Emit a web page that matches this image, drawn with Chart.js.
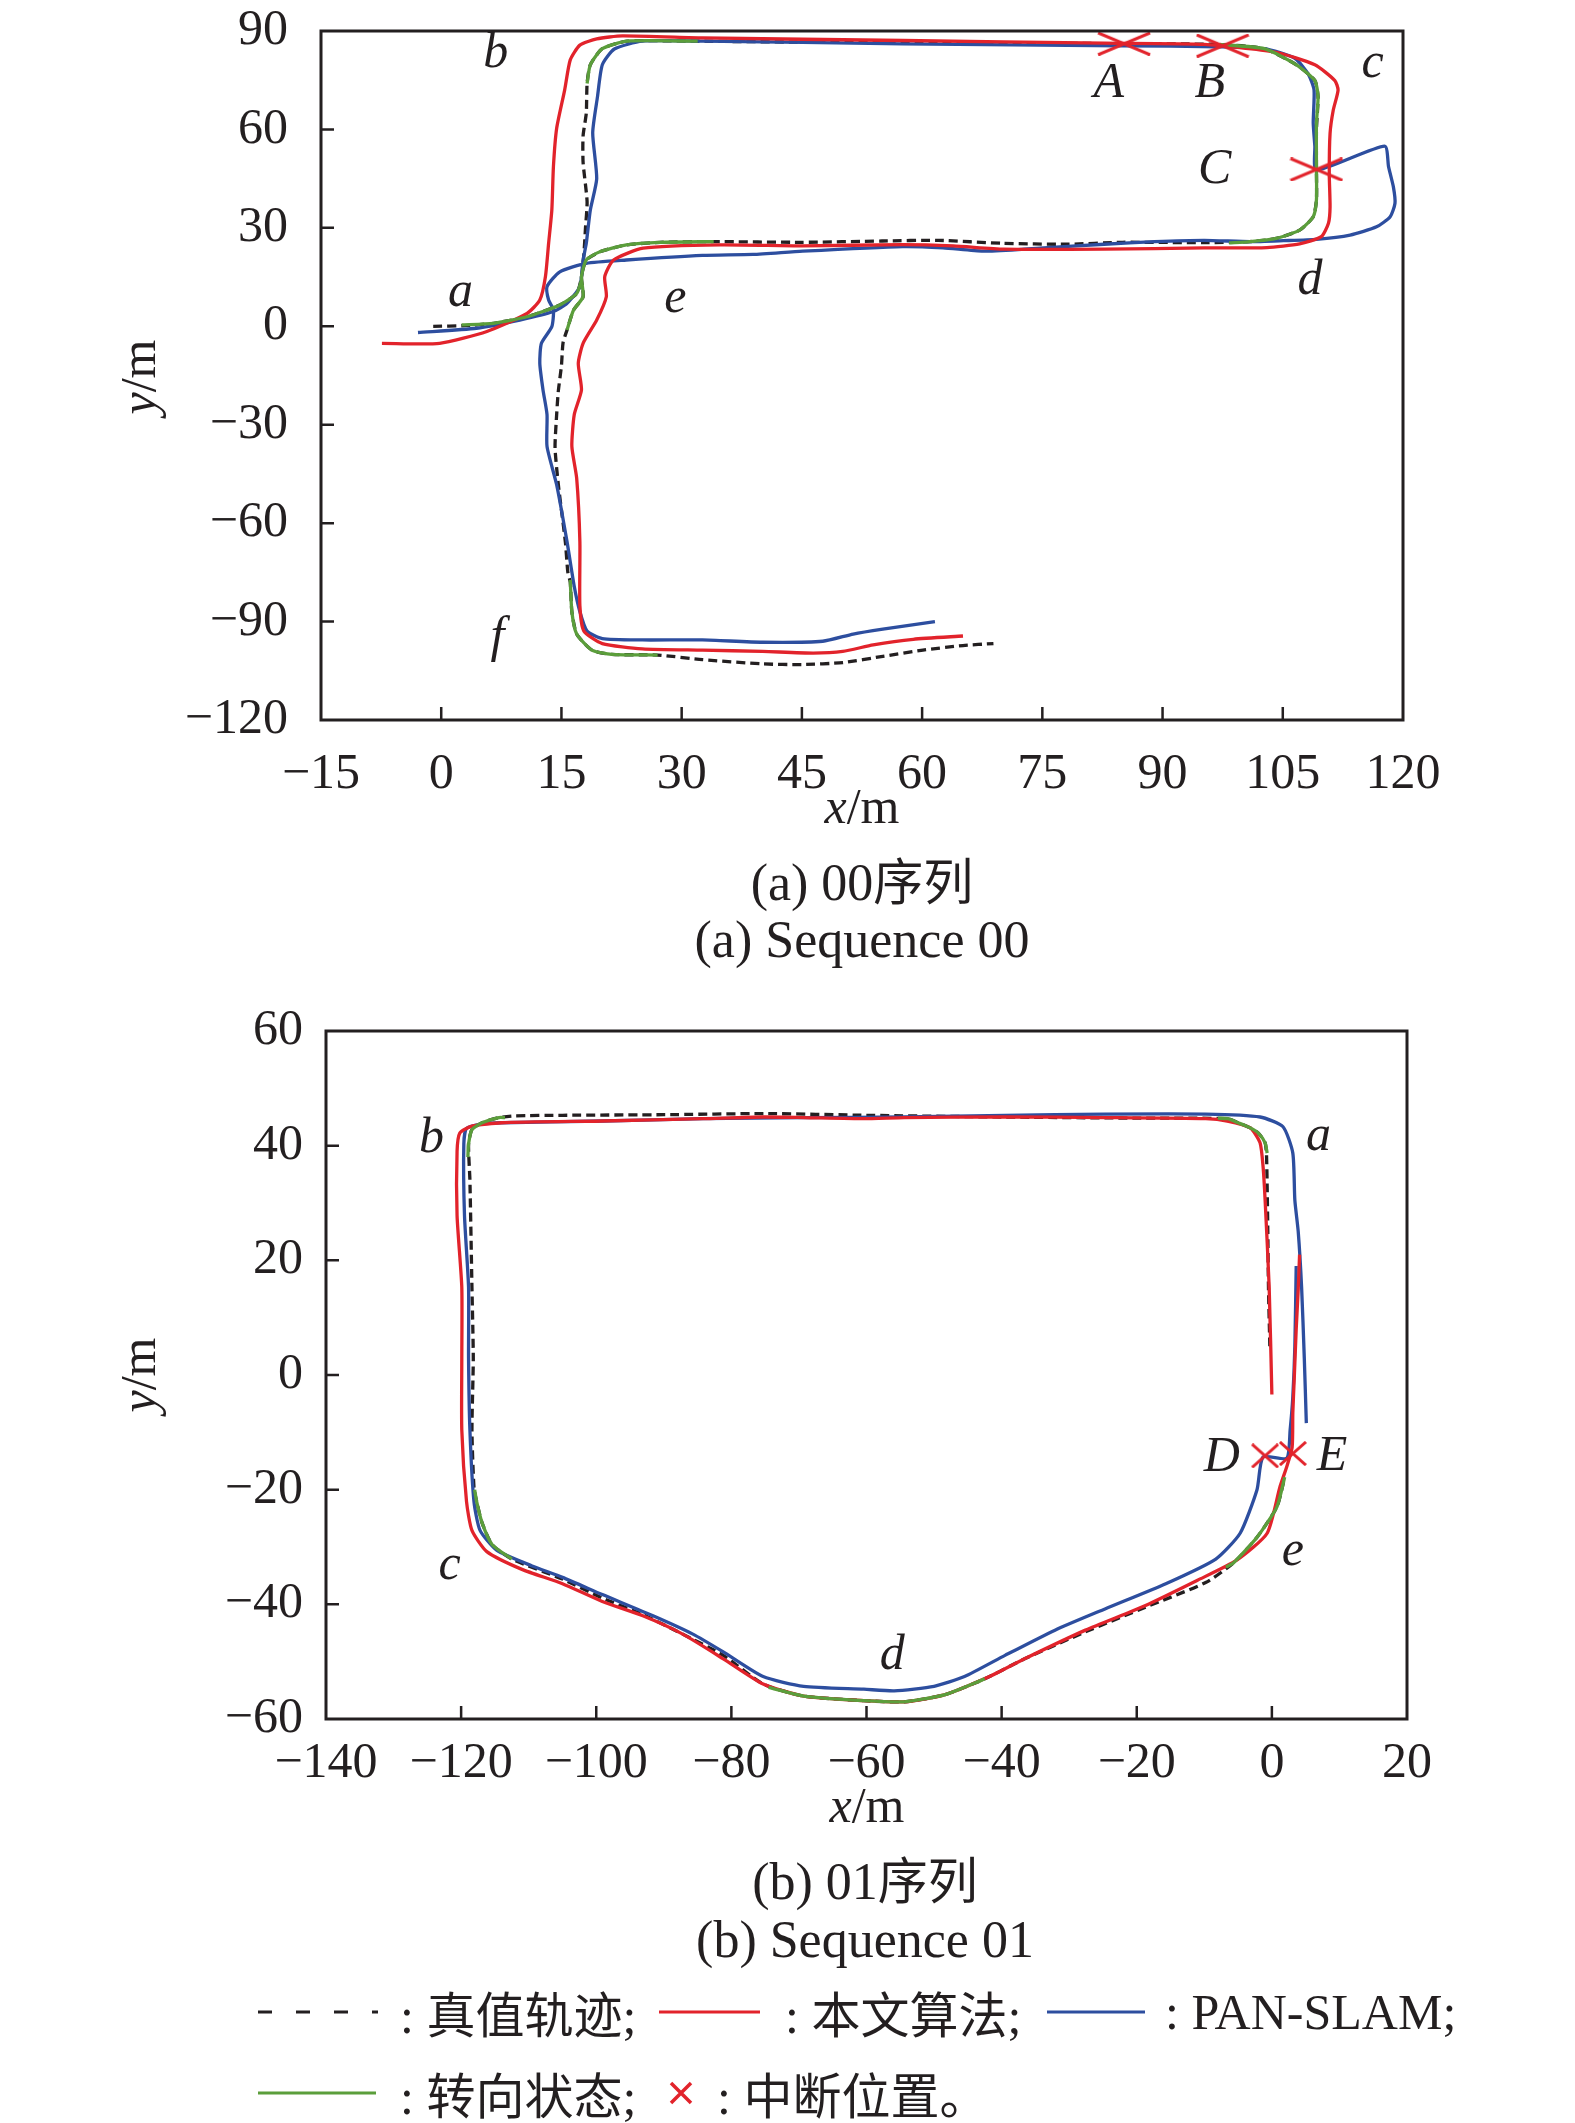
<!DOCTYPE html>
<html>
<head>
<meta charset="utf-8">
<script src="https://cdn.jsdelivr.net/npm/chart.js@4.4.0/dist/chart.umd.min.js"></script>
<style>
  html, body { margin: 0; padding: 0; background: #fff; }
  body { width: 1575px; height: 2123px; position: relative; overflow: hidden;
         font-family: "Liberation Serif", "Noto Sans CJK SC", serif; color: #231f20; }
  canvas { position: absolute; left: 0; }
  .cap { position: absolute; width: 600px; text-align: center; font-size: 52px; line-height: 62px; white-space: nowrap; }
  .leg { position: absolute; font-size: 50px; line-height: 62px; white-space: nowrap; }
  .cjk { font-family: "Noto Sans CJK SC", sans-serif; font-size: 49px; }
  svg { position: absolute; }
</style>
</head>
<body>
<canvas id="c00" width="1575" height="860" style="top:0"></canvas>
<canvas id="c01" width="1575" height="860" style="top:1000px"></canvas>

<div class="cap" style="left:562px;top:847px">(a) 00<span class="cjk" style="font-size:50px">序列</span></div>
<div class="cap" style="left:562px;top:909px">(a) Sequence 00</div>
<div class="cap" style="left:565px;top:1846px">(b) 01<span class="cjk" style="font-size:50px">序列</span></div>
<div class="cap" style="left:565px;top:1909px">(b) Sequence 01</div>

<!-- legend -->
<svg style="left:258px;top:2002px" width="120" height="20"><line x1="0" y1="10" x2="120" y2="10" stroke="#231f20" stroke-width="3" stroke-dasharray="14 24"/></svg>
<div class="leg" style="left:400px;top:1981px">: <span class="cjk">真值轨迹</span>;</div>
<svg style="left:659px;top:2002px" width="101" height="20"><line x1="0" y1="10" x2="101" y2="10" stroke="#e2232b" stroke-width="3"/></svg>
<div class="leg" style="left:785px;top:1981px">: <span class="cjk">本文算法</span>;</div>
<svg style="left:1047px;top:2002px" width="98" height="20"><line x1="0" y1="10" x2="98" y2="10" stroke="#2d4e9f" stroke-width="3"/></svg>
<div class="leg" style="left:1165px;top:1981px">: PAN-SLAM;</div>

<svg style="left:258px;top:2083px" width="118" height="20"><line x1="0" y1="10" x2="118" y2="10" stroke="#5b9e3b" stroke-width="3"/></svg>
<div class="leg" style="left:400px;top:2062px">: <span class="cjk">转向状态</span>;</div>
<svg style="left:669px;top:2081px" width="24" height="24"><path d="M2 2 L22 22 M22 2 L2 22" stroke="#e2232b" stroke-width="3.5"/></svg>
<div class="leg" style="left:717px;top:2062px">: <span class="cjk">中断位置。</span></div>

<script>
const INK = '#231f20', RED = '#e2232b', BLUE = '#2d4e9f', GREEN = '#5b9e3b';

// ---- (a) sequence 00 ----
const gt00 = [[-1,0],[3,0.2],[6.5,0.9],[10.7,2.9],[14.8,6.5],[16.9,10],[17.5,15],[17.8,22],[18,30],[18.2,38],[17.7,50],[17.7,58],[18.1,65],[18.2,74],
  [18.6,79.7],[20.1,84.6],[23.2,86.9],[32,86.9],[45,86.6],[60,86.5],[80,86.2],[97,85.9],[102.7,84.6],[106.7,79.7],[109,74.9],[109.4,70],
  [109.2,60],[109.2,48],[109.2,38.5],[108.8,33.4],[107.1,29.3],[104.2,26.8],[100.9,25.8],[95,25.5],[85,25.6],[78,25],[70,25.3],[62,26.2],
  [55,26],[45,25.6],[34,25.8],[27.3,25.6],[23.1,24.8],[19.8,22.7],[18.1,20.2],[17.5,15.1],[17.7,9],[16.5,4.9],[15.7,-1.1],[15.2,-5],
  [15,-12],[14.6,-20],[14.4,-27],[14.2,-37],[14.6,-48],[15,-56],[15.5,-66],[15.8,-75],[16.1,-78],[16.3,-87],[16.9,-93.8],[18.8,-98.7],
  [21.3,-100],[27,-100.2],[32.6,-101.6],[40.1,-102.9],[45.1,-103.1],[50.1,-102.5],[55.1,-100.6],[60.1,-98.7],[65.1,-97.3],[68.9,-96.7]];

const red00 = [[-7.4,-5.2],[-0.2,-5.2],[5.7,-1.6],[10.7,3.9],[12.3,8],[13,15.1],[13.4,25.3],[13.8,35.4],[14,48.7],[14.4,60.3],[15.4,72],
  [16.1,81.2],[17.3,85.7],[19.4,87.6],[22.6,88.5],[32.6,87.9],[57.6,87.1],[82.7,86.3],[95.2,85.9],[104,83.6],[109,79.7],[111.5,74.9],
  [111.9,72],[111.3,65.9],[110.9,58.8],[110.8,46.6],[110.9,36.4],[110.7,31.4],[109.8,27.3],[107.1,25.1],[103,24],[95.2,23.9],[82.7,23.5],
  [70.2,23.5],[63.9,24.5],[57.6,24.9],[45.1,24.5],[34.8,24.8],[25.2,23.8],[21.5,20.2],[20.4,15.1],[20.6,9],[19.4,1.9],[17.7,-5.2],
  [17.1,-11.3],[17.5,-19.4],[16.6,-26.9],[16.3,-36.6],[16.9,-46.3],[17.3,-65.7],[17.3,-85.1],[17.8,-92.9],[20.1,-96.7],[25.1,-98.3],
  [32.6,-98.7],[40.1,-99.1],[46.4,-99.6],[50.1,-99.1],[53.9,-97.1],[58.9,-95.4],[65.1,-94.4]];

const blue00 = [[-2.9,-1.9],[4.4,-0.6],[9.8,1.9],[14,4.5],[15.7,7],[17.3,12.1],[17.7,20.2],[18.1,25.3],[18.6,35.4],[19.4,45],[18.9,59],
  [19.5,70],[20.1,79.7],[21.6,84.5],[25.1,86.9],[32.6,86.9],[57.6,86.1],[85,85.5],[97,85.2],[102.7,84.6],[106.5,81.7],[108.2,76.8],
  [108.9,72],[108.8,62],[109,55],[109.2,47.6],[117.7,54.9],[118.2,48.6],[118.8,42.5],[119,37.5],[118.4,33.4],[116.7,30.3],[113.4,27.8],
  [109.2,26.5],[105.1,26.1],[100.9,25.8],[95.2,26.2],[89,25.8],[82.7,25],[72.7,23.5],[67.6,22.9],[62.6,23.9],[57.6,24.3],[45.1,22.9],
  [38.9,21.9],[32.6,21.6],[23.1,20.2],[18.1,19.2],[14.8,16.6],[13.2,12.1],[13.4,8],[14,5],[13.8,-0.1],[12.5,-5.2],[12.3,-11.3],[12.7,-19.4],
  [13.2,-26.9],[13.2,-36.6],[14.4,-48.3],[15.7,-65.7],[16.6,-79.3],[17.3,-87],[18.2,-92.9],[20.1,-95.2],[25.1,-95.6],[32.6,-95.6],
  [40.1,-96.3],[47.6,-96],[51.4,-93.8],[55.1,-92.3],[61.6,-90]];

const green00 = [
  [[2.55,0.4],[6.5,0.9],[10.7,2.9],[14.8,6.5],[16.9,10],[17.5,14]],
  [[18.2,74],[18.6,79.7],[20.1,84.6],[23.2,86.9],[32,86.9]],
  [[97.1,85.9],[102.7,84.6],[106.7,79.7],[109,74.9],[109.4,70],[109.2,61.8],[109.2,48],[109.2,38.5],[108.8,33.4],[107.1,29.3],[104.2,26.8],[100.9,25.8],[98.3,25.4]],
  [[34,25.8],[27.3,25.6],[23.1,24.8],[19.8,22.7],[18.1,20.2],[17.5,15.1],[17.7,9],[16.5,4.9],[15.7,-1.1]],
  [[16.1,-77.3],[16.3,-87],[16.9,-93.8],[18.8,-98.7],[21.3,-100],[27,-100.2]]
];

const cuts00 = [[85.2,86.1],[97.5,85.5],[109.2,47.8]];
const marks00 = ['a','b','c','d','e','f','A','B','C'];
const markPos00 = [[2.4,10.2],[6.8,83],[116.2,80],[108.4,13.8],[29.2,8.5],[7,-95],[83.3,73.8],[95.9,73.8],[96.5,47.6]];

// ---- (b) sequence 01 ----
const gt01 = [[-0.3,5],[-0.5,15],[-0.6,25],[-0.7,33],[-0.8,38.5],[-1,40.5],[-2,42.2],[-3.2,43.1],[-5,44],[-6.5,44.7],[-20,44.8],[-40,45],
  [-60,45.3],[-75,45.6],[-90,45.4],[-105,45.3],[-112,45.2],[-114.4,44.9],[-116.9,44],[-118.4,42.8],[-118.9,40.3],[-118.7,34],[-118.4,15.3],
  [-118.2,2.9],[-118.4,-9.6],[-118.1,-19.6],[-117.7,-22.1],[-116.9,-25.8],[-115.4,-29.6],[-112.5,-32.1],[-105,-35.6],[-99.1,-38.9],
  [-93.1,-41.8],[-87.2,-45.2],[-81.2,-48.9],[-75.3,-53.9],[-69.3,-56],[-60.4,-56.8],[-54.4,-57],[-48.5,-55.8],[-42.5,-53],[-36.6,-49.5],
  [-27.6,-44.8],[-18.7,-40.5],[-9.8,-36.2],[-5.7,-32.8],[-2.2,-28.3],[0.75,-23],[1.9,-17.8]];

const red01 = [[0,-3.4],[-0.4,15.3],[-1,30.5],[-1.3,36.3],[-1.75,40.5],[-3.2,43.1],[-6.6,44.3],[-9.8,44.7],[-24.7,44.9],[-39.5,45],
  [-54.4,44.9],[-60.4,44.7],[-69.3,44.9],[-75.3,45],[-84.2,44.7],[-99.1,44.3],[-114,44],[-118.4,43.4],[-120.2,42.2],[-120.6,39],
  [-120.6,27.8],[-119.9,15.3],[-119.9,2.9],[-119.9,-9.6],[-119.2,-22.1],[-118.4,-27.1],[-116.2,-30.8],[-111,-33.9],[-105,-36.4],
  [-99.1,-39.5],[-93.1,-42],[-87.2,-45.2],[-81.2,-49.5],[-75.3,-53.9],[-69.3,-56],[-60.4,-56.8],[-54.4,-57],[-48.5,-55.8],[-41.8,-52.6],
  [-36.6,-49.5],[-27.6,-44.5],[-18.7,-40.2],[-11,-35.8],[-5.2,-32.3],[-0.7,-27.6],[1.2,-19.5],[2.2,-16],[3,-12.6],[3.1,-6.6],[3.3,-0.9],
  [3.6,8],[3.9,15],[4.1,21]];

const blue01 = [[5.1,-8.4],[4.8,2.9],[4.4,15.3],[3.9,25],[3.4,30.5],[3.1,38.7],[1.65,43.3],[-1.75,45],[-9.8,45.5],[-24.7,45.5],[-39.5,45.3],
  [-54.4,45],[-69.3,44.9],[-84.2,44.7],[-99.1,44.3],[-114,44],[-116.9,43.8],[-119.2,43],[-119.6,40.3],[-119.5,27.8],[-118.9,15.3],
  [-118.9,2.9],[-118.7,-9.6],[-118.1,-22.1],[-117.2,-27.1],[-114.7,-30.6],[-109.5,-33.3],[-105,-35.3],[-99.1,-38.3],[-91.6,-42],
  [-85.7,-45.2],[-81.2,-48.3],[-75.3,-52.6],[-69.3,-54.3],[-60.4,-54.8],[-55.9,-55.1],[-50,-54.3],[-45.5,-52.6],[-39.5,-48.9],
  [-32.1,-44.5],[-24.7,-40.8],[-15.7,-36.4],[-8.3,-32.1],[-4.7,-27.6],[-2.2,-20],[-1.3,-14.3],[2.2,-14.5],[2.7,-9.6],[3.1,-3.8],
  [3.4,5],[3.6,19]];

const green01 = [
  [[-0.7,38.7],[-1,40.5],[-2,42.2],[-3.2,43.1],[-5,44],[-6.5,44.7],[-8,44.8]],
  [[-113.5,44.9],[-114.4,44.9],[-116.9,44],[-118.4,42.8],[-118.9,40.3],[-119,38]],
  [[-118,-20],[-117.7,-22.1],[-116.9,-25.8],[-115.4,-29.6],[-112.5,-32.1]],
  [[-74.5,-54.5],[-69.3,-56],[-60.4,-56.8],[-54.4,-57],[-48.5,-55.8],[-42.5,-53]],
  [[-6.8,-33.5],[-5.7,-32.8],[-2.2,-28.3],[0.75,-23],[1.9,-17.8]]
];

const cuts01 = [[-1,-14.1],[3.1,-13.7]];
const marks01 = ['a','b','c','d','e','D','E'];
const markPos01 = [[6.9,41.5],[-124.4,41.2],[-121.7,-33.3],[-56.2,-48.9],[3.1,-30.9],[-7.4,-14.4],[8.9,-14.3]];

// helpers
function pts(a) { return a.map(p => ({ x: p[0], y: p[1] })); }

function lineSet(arr, color, order, dash) {
  return {
    data: pts(arr), borderColor: color, borderWidth: 3.3, borderDash: dash || [],
    pointRadius: 0, showLine: true, tension: 0.2, fill: false, order: order
  };
}

function cross(w, h) {
  const c = document.createElement('canvas');
  c.width = w; c.height = h;
  const g = c.getContext('2d');
  g.strokeStyle = RED; g.lineWidth = 3;
  g.beginPath();
  g.moveTo(1, 1); g.lineTo(w - 1, h - 1);
  g.moveTo(w - 1, 1); g.lineTo(1, h - 1);
  g.stroke();
  return c;
}

function minus(v) { return v < 0 ? '\u2212' + (-v) : String(v); }

// frame, inward ticks, letters and axis titles
const framePlugin = {
  id: 'frame',
  afterDatasetsDraw(chart, args, o) {
    const ctx = chart.ctx, a = chart.chartArea, xs = chart.scales.x, ys = chart.scales.y;
    ctx.save();
    ctx.strokeStyle = INK;
    ctx.lineWidth = 2.5;
    ctx.beginPath();
    xs.ticks.forEach(t => {
      const px = xs.getPixelForValue(t.value);
      if (px < a.left + 2 || px > a.right - 2) return;
      ctx.moveTo(px, a.bottom); ctx.lineTo(px, a.bottom - 13);
    });
    ys.ticks.forEach(t => {
      const py = ys.getPixelForValue(t.value);
      if (py < a.top + 2 || py > a.bottom - 2) return;
      ctx.moveTo(a.left, py); ctx.lineTo(a.left + 13, py);
    });
    ctx.stroke();
    ctx.lineWidth = 3;
    ctx.strokeRect(a.left, a.top, a.right - a.left, a.bottom - a.top);

    ctx.fillStyle = INK;
    ctx.textAlign = 'center';
    ctx.textBaseline = 'middle';
    ctx.font = 'italic 50px "Liberation Serif"';
    o.marks.forEach((m, i) => {
      ctx.fillText(m, xs.getPixelForValue(o.pos[i][0]), ys.getPixelForValue(o.pos[i][1]));
    });

    unitTitle(ctx, 'x', o.xTitle[0], o.xTitle[1], false);
    unitTitle(ctx, 'y', o.yTitle[0], o.yTitle[1], true);
    ctx.restore();
  }
};

function unitTitle(ctx, letter, cx, cy, rotate) {
  ctx.save();
  ctx.translate(cx, cy);
  if (rotate) ctx.rotate(-Math.PI / 2);
  ctx.textBaseline = 'middle';
  ctx.textAlign = 'left';
  ctx.font = 'italic 50px "Liberation Serif"';
  const w1 = ctx.measureText(letter).width;
  ctx.font = '50px "Liberation Serif"';
  const w2 = ctx.measureText('/m').width;
  const x0 = -(w1 + w2) / 2;
  ctx.font = 'italic 50px "Liberation Serif"';
  ctx.fillText(letter, x0, 0);
  ctx.font = '50px "Liberation Serif"';
  ctx.fillText('/m', x0 + w1, 0);
  ctx.restore();
}

function makeChart(id, cfg) {
  const datasets = [lineSet(cfg.gt, INK, 4, [9, 5]), lineSet(cfg.blue, BLUE, 3), lineSet(cfg.red, RED, 2)];
  cfg.green.forEach(seg => datasets.push(lineSet(seg, GREEN, 1)));
  datasets.push({
    data: pts(cfg.cuts), pointStyle: cfg.cross, pointRadius: 12, showLine: false, order: 0
  });
  const tickFont = { family: 'Liberation Serif', size: 50 };
  return new Chart(document.getElementById(id), {
    type: 'scatter',
    data: { datasets: datasets },
    plugins: [framePlugin],
    options: {
      responsive: false,
      animation: false,
      devicePixelRatio: 1,
      layout: { padding: { left: 0, top: cfg.top, right: cfg.right, bottom: 0 } },
      scales: {
        x: {
          type: 'linear', min: cfg.xr[0], max: cfg.xr[1],
          grid: { display: false, drawTicks: false }, border: { display: false },
          ticks: { stepSize: cfg.xr[2], font: tickFont, color: INK, padding: cfg.xPad, maxRotation: 0, autoSkip: false, callback: minus },
          afterFit(s) { s.height = cfg.xH; s.paddingLeft = 0; s.paddingRight = 0; }
        },
        y: {
          type: 'linear', min: cfg.yr[0], max: cfg.yr[1],
          grid: { display: false, drawTicks: false }, border: { display: false },
          ticks: { stepSize: cfg.yr[2], font: tickFont, color: INK, padding: cfg.yPad, autoSkip: false, callback: minus },
          afterFit(s) { s.width = cfg.yW; s.paddingTop = 0; s.paddingBottom = 0; }
        }
      },
      plugins: {
        legend: { display: false },
        tooltip: { enabled: false },
        frame: { marks: cfg.marks, pos: cfg.markPos, xTitle: cfg.xTitle, yTitle: cfg.yTitle }
      }
    }
  });
}

makeChart('c00', {
  gt: gt00, red: red00, blue: blue00, green: green00, cuts: cuts00, cross: cross(54, 24),
  marks: marks00, markPos: markPos00,
  xr: [-15, 120, 15], yr: [-120, 90, 30],
  top: 31, right: 172, xH: 140, yW: 321, xPad: 25, yPad: 33,
  xTitle: [862, 810], yTitle: [142, 377]
});

makeChart('c01', {
  gt: gt01, red: red01, blue: blue01, green: green01, cuts: cuts01, cross: cross(28, 25),
  marks: marks01, markPos: markPos01,
  xr: [-140, 20, 20], yr: [-60, 60, 20],
  top: 31, right: 168, xH: 141, yW: 326, xPad: 15, yPad: 23,
  xTitle: [867, 809], yTitle: [142, 375]
});
</script>
</body>
</html>
